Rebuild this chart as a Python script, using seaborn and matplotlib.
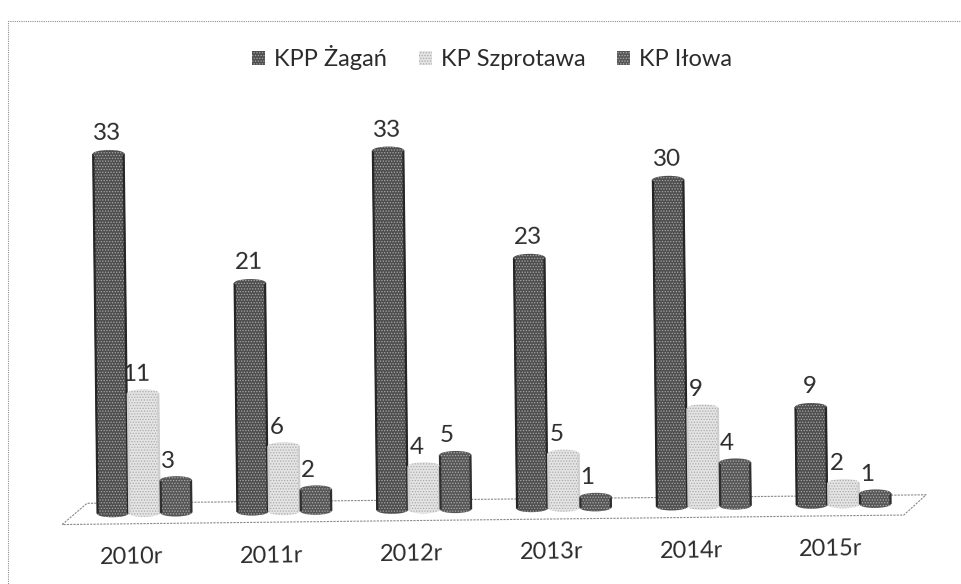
import matplotlib
matplotlib.use('Agg')
import pandas as pd
import seaborn as sns
import matplotlib.pyplot as plt
from matplotlib.lines import Line2D
from matplotlib.patches import Ellipse
from matplotlib.transforms import Affine2D

# data
years = ['2010r', '2011r', '2012r', '2013r', '2014r', '2015r']
kpp_zagan = [33, 21, 33, 23, 30, 9]
kp_szprotawa = [11, 6, 4, 5, 9, 2]
kp_ilowa = [3, 2, 5, 1, 4, 1]
series_names = ['KPP Żagań', 'KP Szprotawa', 'KP Iłowa']

face_colors = ['#4e4e4e', '#e4e4e4', '#565656']
dot_colors = ['#a8a8a8', '#ababab', '#ababab']
side_colors = ['#262626', '#cfcfcf', '#303030']
# label offsets in points, dx and height above the bar
label_offsets = [(-1, 7), (-5, 6), (-6, 6)]
TEXT = '#2b2b2b'
W, H = 962, 584

sns.set_theme(style='white')
plt.rcParams['font.family'] = ['Lato', 'DejaVu Sans']
plt.rcParams['hatch.linewidth'] = 0.6

df = pd.DataFrame({
    'year': years * 3,
    'station': [n for n in series_names for _ in years],
    'value': kpp_zagan + kp_szprotawa + kp_ilowa,
})

fig = plt.figure(figsize=(W / 100, H / 100), dpi=100)
ax = fig.add_axes([74.6 / W, 70.5 / H, 839 / W, 436 / H])
sns.barplot(data=df, x='year', y='value', hue='station', hue_order=series_names,
            palette=face_colors, width=0.68, gap=0, saturation=1, ax=ax)
ax.set_xlim(-0.5, 5.5)
ax.set_ylim(0, 40)
ax.set_xlabel('')
ax.set_ylabel('')
ax.set_yticks([])
ax.patch.set_visible(False)
sns.despine(ax=ax, left=True, bottom=True)
ax.tick_params(axis='x', length=0, pad=24, labelsize=17, labelcolor=TEXT)

# the scan is slightly rotated, everything goes through this
tilt = Affine2D().rotate_deg_around(110, 70.5, 0.7)
data_tilt = ax.transData + tilt

# floor of the 3d chart
floor_x = [-0.59, -0.41, 5.59, 5.43, -0.59]
floor_y = [-0.96, 0.96, 0.8, -1.03, -0.96]
ax.plot(floor_x, floor_y, color='#8a8a8a', lw=0.8, ls=(0, (2, 1)), zorder=0.5,
        transform=data_tilt, clip_on=False)

# cylinders: bar plus two caps
CAP = 0.7
for container, face, dot, side, (dx, dy) in zip(ax.containers, face_colors, dot_colors,
                                                side_colors, label_offsets):
    for bar in container:
        x, w, v = bar.get_x(), bar.get_width(), bar.get_height()
        bar.set(hatch='......', edgecolor=dot, linewidth=0, transform=data_tilt,
                clip_on=False, zorder=2)
        ax.vlines([x + w * 0.02, x + w * 0.98], 0, v, color=side, lw=1.6, zorder=2.05,
                  transform=data_tilt, clip_on=False)
        for yc, z in [(0, 1.9), (v, 2.1)]:
            ax.add_patch(Ellipse((x + w / 2, yc), w, CAP, facecolor=face, edgecolor=dot,
                                 hatch='......', linewidth=0, transform=data_tilt,
                                 clip_on=False, zorder=z))
    labels = ax.bar_label(container, fontsize=17.5, color=TEXT, rotation=0.7)
    for label in labels:
        label.xycoords = data_tilt
        label.xyann = (dx, dy)
        label.set_zorder(3)

# year labels sit left of the groups
for label in ax.get_xticklabels():
    label.set_transform(label.get_transform() + Affine2D().translate(-13, 0) + tilt)
    label.set_rotation(0.7)

sns.move_legend(ax, 'center', bbox_to_anchor=(492 / W, 1 - 58 / H),
                bbox_transform=fig.transFigure, ncol=3, frameon=False, title=None,
                fontsize=17, labelcolor=TEXT, handlelength=0.55, handleheight=0.55,
                handletextpad=0.38, columnspacing=1.35)
for handle, dot in zip(ax.get_legend().get_patches(), dot_colors):
    handle.set(hatch='......', edgecolor=dot, linewidth=0)

# dotted frame of the scanned chart
frame_x = [1, 8 / W, 8 / W]
frame_y = [1 - 21 / H, 1 - 21 / H, 0]
fig.add_artist(Line2D(frame_x, frame_y, color='#8f8f8f', lw=0.8, ls=(0, (1, 1)),
                      transform=fig.transFigure))

fig.savefig('out.png', dpi=100, facecolor='white')
